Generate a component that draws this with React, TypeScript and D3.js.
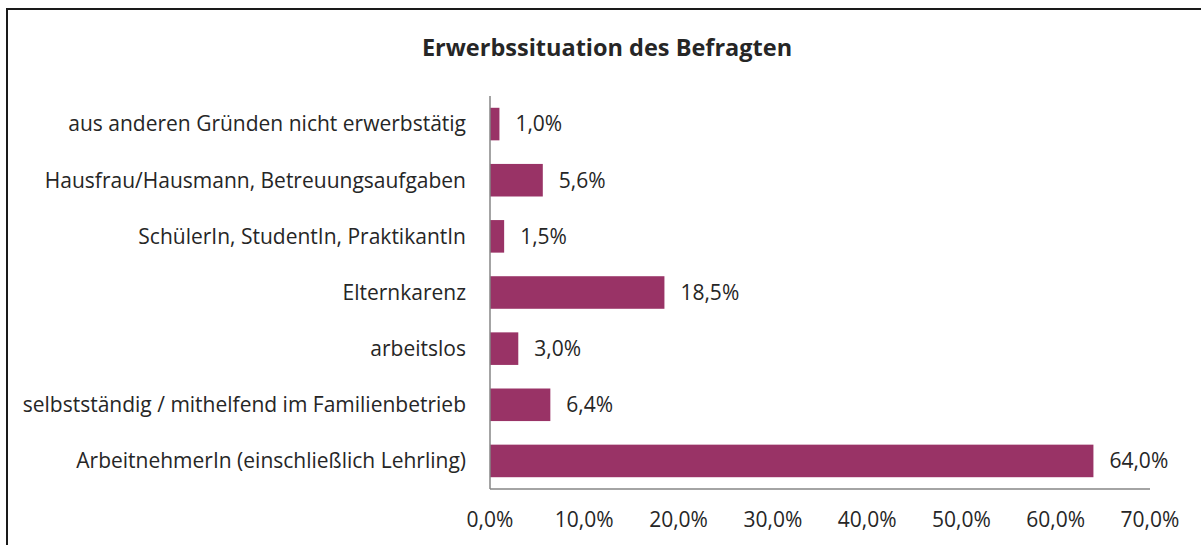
import React from 'react'
import * as d3 from 'd3'

const categories = [
  'aus anderen Gründen nicht erwerbstätig',
  'Hausfrau/Hausmann, Betreuungsaufgaben',
  'SchülerIn, StudentIn, PraktikantIn',
  'Elternkarenz',
  'arbeitslos',
  'selbstständig / mithelfend im Familienbetrieb',
  'ArbeitnehmerIn (einschließlich Lehrling)',
]
const values = [1.0, 5.6, 1.5, 18.5, 3.0, 6.4, 64.0]
const ticks = [0, 10, 20, 30, 40, 50, 60, 70]

const fmt = (v: number) => v.toFixed(1).replace('.', ',') + '%'

export default function App() {
  const W = 1201
  const H = 545
  const font = "'Open Sans', 'Noto Sans', sans-serif"
  const textColor = '#262626'
  const fs = 21

  const x = d3.scaleLinear().domain([0, 70]).range([490, 1150])
  const y = d3.scaleBand<string>().domain(categories).range([96, 489]).paddingInner(0.42).paddingOuter(0.21)

  return (
    <svg width={W} height={H} style={{ position: 'absolute', left: 0, top: 0 }}>
      <rect x={0} y={0} width={W} height={H} fill="#fff" />
      <rect x={7} y={9} width={W + 10} height={H + 10} fill="none" stroke="#1a1a1a" strokeWidth={2} />
      <text x={607} y={56} textAnchor="middle" fontFamily={font} fontWeight="bold" fontSize={23.5} fill={textColor}>
        Erwerbssituation des Befragten
      </text>
      {categories.map((c, i) => (
        <g key={c}>
          <rect
            x={x(0)}
            y={y(c)!}
            width={x(values[i]) - x(0)}
            height={y.bandwidth()}
            fill="#993366"
          />
          <text
            x={x(0) - 24}
            y={y(c)! + y.bandwidth() / 2}
            dy="0.35em"
            textAnchor="end"
            fontFamily={font}
            fontSize={fs}
            fill={textColor}
          >
            {c}
          </text>
          <text
            x={x(values[i]) + 16}
            y={y(c)! + y.bandwidth() / 2}
            dy="0.35em"
            fontFamily={font}
            fontSize={fs}
            fill={textColor}
          >
            {fmt(values[i])}
          </text>
        </g>
      ))}
      <line x1={x(0)} x2={x(0)} y1={96} y2={489} stroke="#868686" strokeWidth={1.5} />
      <line x1={x(0)} x2={x(70)} y1={489} y2={489} stroke="#868686" strokeWidth={1.5} />
      {ticks.map(t => (
        <text
          key={t}
          x={x(t)}
          y={520}
          dy="0.35em"
          textAnchor="middle"
          fontFamily={font}
          fontSize={fs}
          fill={textColor}
        >
          {fmt(t)}
        </text>
      ))}
    </svg>
  )
}
